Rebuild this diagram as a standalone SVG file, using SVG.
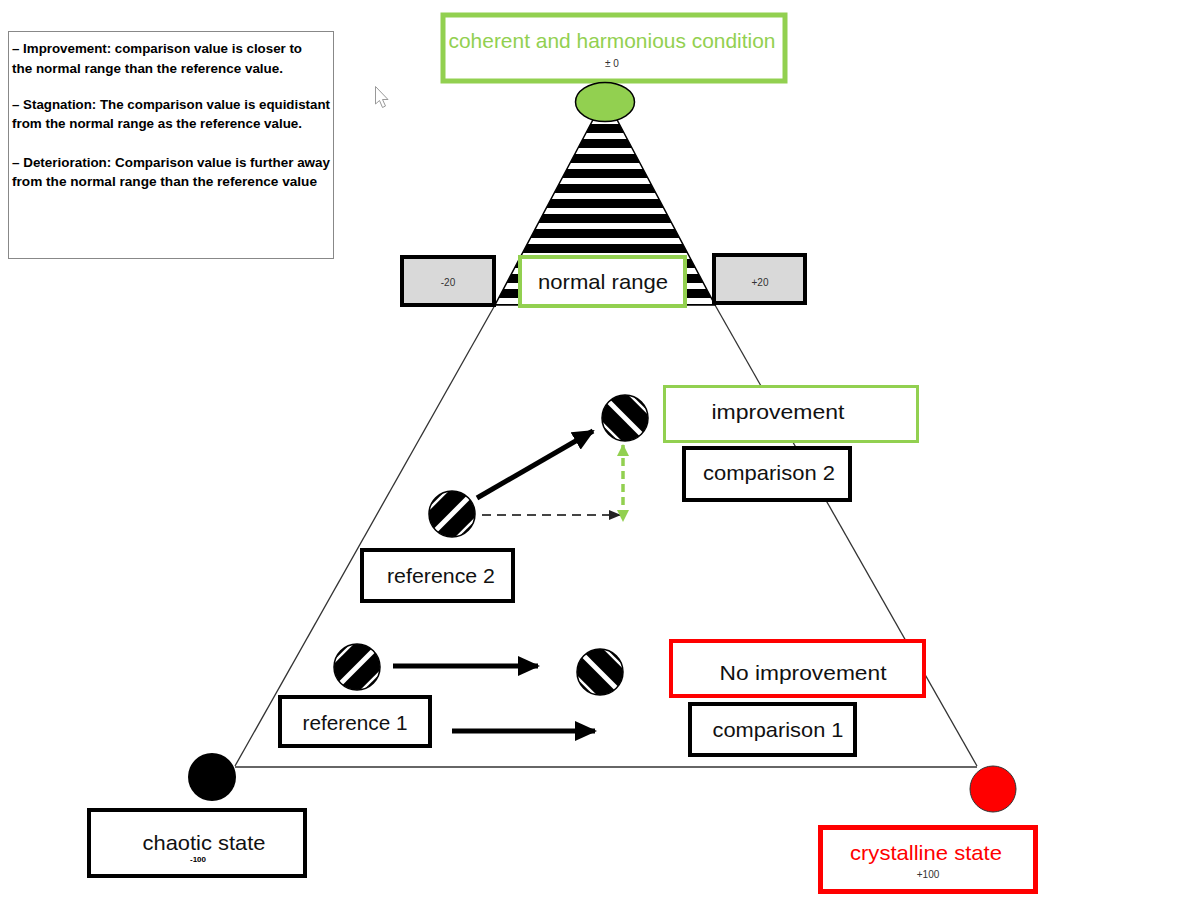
<svg xmlns="http://www.w3.org/2000/svg" xmlns:xlink="http://www.w3.org/1999/xlink" width="1197" height="911" viewBox="0 0 1197 911">
<style>
.lbl{font-family:"Liberation Sans",Arial,sans-serif;font-size:21px;fill:#111;text-anchor:middle}
.small{font-family:"Liberation Sans",Arial,sans-serif;font-size:9px;fill:#333;text-anchor:middle}
.leg{font-family:"Liberation Sans",Arial,sans-serif;font-size:12.5px;font-weight:bold;fill:#000}
.bk{fill:#fff;stroke:#000;stroke-width:4}
.gr{fill:#fff;stroke:#92D050;stroke-width:4}
.rd{fill:#fff;stroke:#FF0000;stroke-width:4}
.gy{fill:#D9D9D9;stroke:#000;stroke-width:4}
.edge{stroke:#333;stroke-width:1.3;fill:none}
</style>
<defs>
<pattern id="hstripe" patternUnits="userSpaceOnUse" x="0" y="118" width="20" height="15">
<rect x="0" y="0" width="20" height="6" fill="#fff"/>
<rect x="0" y="6" width="20" height="9" fill="#000"/>
</pattern>
<clipPath id="ballclip"><circle cx="0" cy="0" r="23"/></clipPath>
<g id="ballR">
<g clip-path="url(#ballclip)">
<circle cx="0" cy="0" r="23" fill="#000"/>
<g transform="rotate(-45)">
<rect x="-30" y="-2.5" width="60" height="5" fill="#fff"/>
<rect x="-30" y="-21" width="60" height="2.5" fill="#fff"/>
<rect x="-30" y="18.5" width="60" height="2.5" fill="#fff"/>
</g>
</g>
<circle cx="0" cy="0" r="23" fill="none" stroke="#000" stroke-width="1.5"/>
</g>
<g id="ballC">
<g clip-path="url(#ballclip)">
<circle cx="0" cy="0" r="23" fill="#000"/>
<g transform="rotate(45)">
<rect x="-30" y="-2.5" width="60" height="5" fill="#fff"/>
<rect x="-30" y="-21" width="60" height="2.5" fill="#fff"/>
<rect x="-30" y="18.5" width="60" height="2.5" fill="#fff"/>
</g>
</g>
<circle cx="0" cy="0" r="23" fill="none" stroke="#000" stroke-width="1.5"/>
</g>
<marker id="ahBlack" markerUnits="userSpaceOnUse" markerWidth="22" markerHeight="20" refX="20" refY="10" orient="auto">
<path d="M0,0 L22,10 L0,20 Z" fill="#000"/>
</marker>
<marker id="ahGray" markerUnits="userSpaceOnUse" markerWidth="12" markerHeight="10" refX="11" refY="5" orient="auto">
<path d="M0,0 L12,5 L0,10 Z" fill="#222"/>
</marker>
<marker id="ahGreen" markerUnits="userSpaceOnUse" markerWidth="12" markerHeight="12" refX="11" refY="6" orient="auto-start-reverse">
<path d="M0,0 L12,6 L0,12 Z" fill="#92D050"/>
</marker>
</defs>
<rect x="0" y="0" width="1197" height="911" fill="#fff"/>

<g id="legend">
<rect x="8.5" y="31.5" width="325" height="227" fill="#fff" stroke="#888" stroke-width="1"/>
<text class="leg" x="12" y="53" textLength="290" lengthAdjust="spacingAndGlyphs">– Improvement: comparison value is closer to</text>
<text class="leg" x="12" y="73" textLength="271" lengthAdjust="spacingAndGlyphs">the normal range than the reference value.</text>
<text class="leg" x="12" y="109" textLength="318" lengthAdjust="spacingAndGlyphs">– Stagnation: The comparison value is equidistant</text>
<text class="leg" x="12" y="128" textLength="290" lengthAdjust="spacingAndGlyphs">from the normal range as the reference value.</text>
<text class="leg" x="12" y="167" textLength="318" lengthAdjust="spacingAndGlyphs">– Deterioration: Comparison value is further away</text>
<text class="leg" x="12" y="186" textLength="305" lengthAdjust="spacingAndGlyphs">from the normal range than the reference value</text>
</g>

<g id="cursor">
<path d="M375.5,86.5 L375.5,104 L379.5,100.5 L382.5,107.5 L385.5,106 L382.5,99.5 L388,99.5 Z" fill="#fff" stroke="#999" stroke-width="1"/>
</g>

<g id="connectors">
<line class="edge" x1="495" y1="305" x2="235" y2="766"/>
<line class="edge" x1="715" y1="305" x2="977" y2="766"/>
<line class="edge" x1="235" y1="767" x2="977" y2="767"/>
<line x1="477" y1="498" x2="593" y2="431" stroke="#000" stroke-width="5" marker-end="url(#ahBlack)"/>
<line x1="482" y1="515" x2="620" y2="515" stroke="#444" stroke-width="2" stroke-dasharray="9,6" marker-end="url(#ahGray)"/>
<line x1="623" y1="445" x2="623" y2="521" stroke="#92D050" stroke-width="3.5" stroke-dasharray="8,5" marker-start="url(#ahGreen)" marker-end="url(#ahGreen)"/>
<line x1="393" y1="666" x2="538" y2="666" stroke="#000" stroke-width="5" marker-end="url(#ahBlack)"/>
<line x1="452" y1="731" x2="595" y2="731" stroke="#000" stroke-width="5" marker-end="url(#ahBlack)"/>
</g>

<g id="normal-cone">
<polygon points="605,97 495,305 715,305" fill="url(#hstripe)" stroke="#000" stroke-width="1.5"/>
</g>

<g id="coherent">
<rect x="443" y="15" width="342" height="66" fill="#fff" stroke="#92D050" stroke-width="5"/>
<text class="lbl" x="612" y="48" textLength="327" lengthAdjust="spacingAndGlyphs" style="fill:#92D050">coherent and harmonious condition</text>
<text class="small" x="612" y="67" style="font-size:10px">± 0</text>
<ellipse cx="605" cy="102" rx="29.5" ry="19.5" fill="#92D050" stroke="#000" stroke-width="1.5"/>
</g>

<g id="minus20">
<rect class="gy" x="402" y="257" width="92" height="48"/>
<text class="small" x="448" y="286" style="font-size:10px">-20</text>
</g>
<g id="plus20">
<rect class="gy" x="714" y="255" width="91" height="48"/>
<text class="small" x="760" y="286" style="font-size:10px">+20</text>
</g>
<g id="normal-range">
<rect class="gr" x="520" y="257" width="165" height="49"/>
<text class="lbl" x="603" y="289" textLength="130" lengthAdjust="spacingAndGlyphs">normal range</text>
</g>

<g id="improvement">
<rect x="664.5" y="386.5" width="253" height="55" fill="#fff" stroke="#92D050" stroke-width="3"/>
<text class="lbl" x="778" y="419" textLength="133" lengthAdjust="spacingAndGlyphs">improvement</text>
</g>
<g id="comparison2">
<rect class="bk" x="684" y="448" width="166" height="52"/>
<text class="lbl" x="769" y="480" textLength="132" lengthAdjust="spacingAndGlyphs">comparison 2</text>
</g>
<g id="comparison2-point"><use xlink:href="#ballC" href="#ballC" x="625" y="418"/></g>
<g id="reference2-point"><use xlink:href="#ballR" href="#ballR" x="452" y="514"/></g>
<g id="reference2">
<rect class="bk" x="362" y="550" width="151" height="51"/>
<text class="lbl" x="441" y="583" textLength="108" lengthAdjust="spacingAndGlyphs">reference 2</text>
</g>

<g id="reference1-point"><use xlink:href="#ballR" href="#ballR" x="357" y="667"/></g>
<g id="comparison1-point"><use xlink:href="#ballC" href="#ballC" x="600" y="672"/></g>
<g id="no-improvement">
<rect class="rd" x="671" y="641" width="253" height="55"/>
<text class="lbl" x="803" y="680" textLength="167" lengthAdjust="spacingAndGlyphs">No improvement</text>
</g>
<g id="reference1">
<rect class="bk" x="280" y="697" width="150" height="49"/>
<text class="lbl" x="355" y="730" textLength="105" lengthAdjust="spacingAndGlyphs">reference 1</text>
</g>
<g id="comparison1">
<rect class="bk" x="690" y="704" width="165" height="51"/>
<text class="lbl" x="778" y="737" textLength="131" lengthAdjust="spacingAndGlyphs">comparison 1</text>
</g>

<g id="chaotic">
<circle cx="212" cy="777" r="24" fill="#000"/>
<rect class="bk" x="89" y="810" width="216" height="66"/>
<text class="lbl" x="204" y="850" textLength="123" lengthAdjust="spacingAndGlyphs">chaotic state</text>
<text class="small" x="198" y="862" style="font-size:8px;font-weight:bold;fill:#000">-100</text>
</g>
<g id="crystalline">
<circle cx="993" cy="789" r="23" fill="#FF0000" stroke="#333" stroke-width="1"/>
<rect x="820.5" y="827.5" width="215" height="64" fill="#fff" stroke="#FF0000" stroke-width="5"/>
<text class="lbl" x="926" y="860" textLength="152" lengthAdjust="spacingAndGlyphs" style="fill:#FF0000">crystalline state</text>
<text class="small" x="928" y="878" style="font-size:10px">+100</text>
</g>
</svg>
